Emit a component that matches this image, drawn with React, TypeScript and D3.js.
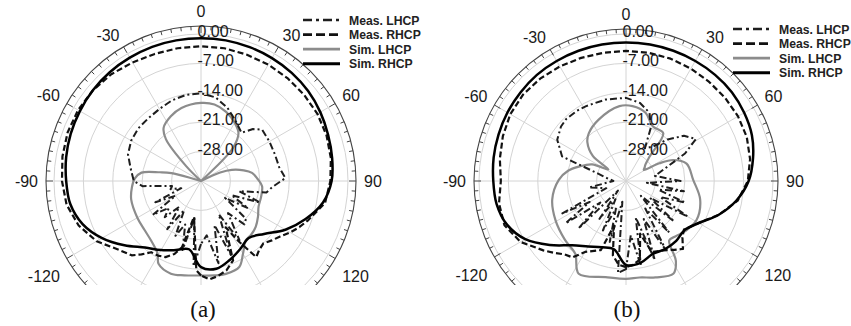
import { useEffect, useRef } from 'react'
import * as d3 from 'd3'

// radial axis (dB) and angular labels (deg)
const radialTicks = [0, -7, -14, -21, -28]
const angleLabels = [0, 30, 60, 90, 120, -120, -90, -60, -30]
const legendNames = ['Meas. LHCP', 'Meas. RHCP', 'Sim. LHCP', 'Sim. RHCP']

// simulated RHCP, sampled every 10 deg
const simRhcpAngles = [
  -180, -170, -160, -150, -140, -130, -120, -110, -100, -90, -80, -70, -60, -50, -40, -30, -20, -10,
  0, 10, 20, 30, 40, 50, 60, 70, 80, 90, 100, 110, 120, 130, 140, 150, 160, 170,
]
const simRhcpA = [
  -14.5, -18.5, -17.5, -16, -14.3, -11.2, -7.8, -5, -3.4, -2.9, -2.4, -2.0, -1.7, -1.4, -1.2, -1.1, -1.0, -1.0,
  -1.0, -1.0, -1.1, -1.2, -1.4, -1.7, -2.2, -2.8, -3.3, -3.9, -5.5, -8.5, -11.8, -15.4, -17.3, -16.3, -15, -13.8,
]
const simRhcpB = [
  -15, -18.5, -18.2, -17, -15, -11.3, -7.3, -4.8, -3.7, -3.4, -3.0, -2.7, -2.4, -2.2, -2.0, -2.0, -2.0, -2.0,
  -2.0, -2.0, -2.0, -2.0, -2.0, -2.1, -2.5, -3.1, -4.3, -5.8, -8.3, -11.5, -15, -16.8, -16.4, -16.3, -16.5, -15.2,
]

// simulated LHCP
const simLhcpAnglesA = [
  -180, -170, -162, -153, -149, -140, -131, -120, -105, -95, -88, -82, -78, -75, -70, -60, -50, -45, -40, -35,
  -25, -15, 0, 10, 20, 30, 38, 44, 48, 55, 62, 66, 70, 76, 81, 88, 95, 105, 114, 122, 130, 137, 143, 150, 156,
  165, 172,
]
const simLhcpA = [
  -12.5, -12.2, -11.8, -12.8, -14.9, -16.5, -17.2, -17.5, -17.8, -18.5, -19.2, -20.7, -25, -27.7, -35, -35, -35,
  -30, -22, -19.5, -18, -17, -16.4, -16.5, -17.5, -19, -20.5, -24, -35, -35, -35, -30, -27.2, -24.5, -22.7, -21.5,
  -20.4, -20.2, -20, -19, -18, -17.5, -17.3, -15, -12.6, -12.1, -12.3,
]
const simLhcpAnglesB = [
  -180, -168, -153, -145, -134, -119, -104, -89, -80, -73, -64, -57, -53, -45, -38, -24, -5, 5, 16, 26, 38, 44,
  50, 54, 58, 62, 66, 74, 89, 104, 119, 130, 138, 144, 148, 153, 163, 172,
]
const simLhcpB = [
  -11.7, -11.6, -10.2, -13.9, -14.8, -15.8, -16.9, -19, -21, -23.3, -26, -30, -25.1, -22, -20.6, -19, -17.1, -17.1,
  -18.1, -20.5, -20.6, -26.9, -29, -29.5, -30, -26, -22.7, -20, -19, -16.8, -15.8, -16.5, -17.3, -17.5, -12.6,
  -10.2, -11, -11.8,
]

// measured RHCP
const measRhcpAnglesA = [
  -180, -177, -169, -164, -160, -155, -150, -145, -141, -137, -130, -120, -110, -100, -90, -80, -70, -60, -50, -40,
  -30, -20, -10, 0, 10, 20, 30, 40, 50, 60, 70, 80, 90, 100, 110, 115, 120, 125, 130, 135, 140, 144, 148, 152, 158,
  164, 170, 175,
]
const measRhcpA = [
  -12.5, -13.7, -26.3, -18.6, -16.5, -15, -14.5, -14.3, -12.5, -10.8, -9.5, -6.3, -4.0, -2.5, -1.9, -1.5, -1.2,
  -1.2, -1.4, -1.8, -2.4, -2.8, -2.9, -2.9, -2.9, -3.0, -3.0, -3.0, -3.0, -3.0, -3.2, -3.6, -4.2, -5.0, -7.8, -9.1,
  -10.5, -12, -13, -14, -13.5, -12.6, -18, -22.5, -14.6, -12.9, -12, -11.5,
]
const measRhcpAnglesB = [
  -180, -175, -170, -165, -160, -150, -145, -140, -135, -130, -120, -110, -100, -90, -80, -70, -60, -50, -40, -30,
  -20, -10, 0, 10, 20, 30, 40, 50, 60, 70, 80, 90, 100, 110, 120, 130, 135, 140, 145, 150, 160, 165, 170, 175,
]
const measRhcpB = [
  -14.5, -15, -17, -24, -17.5, -15.5, -12.8, -12.2, -10.8, -9.3, -6.0, -4.2, -4.3, -5.2, -4.5, -3.8, -3.2, -3.0,
  -3.2, -3.5, -3.8, -4.0, -4.0, -4.0, -4.0, -4.1, -4.2, -4.2, -4.2, -4.4, -5, -6, -8, -11.5, -15, -17, -16, -13.9,
  -15, -16, -17, -22, -16, -15,
]

// measured LHCP
const measLhcpAnglesA = [
  -180, -175, -170, -165, -160, -155, -150, -145, -140, -135, -130, -125, -120, -115, -110, -105, -100, -95, -90,
  -80, -70, -60, -50, -40, -30, -20, -10, 0, 10, 20, 30, 40, 45, 50, 60, 70, 80, 88, 95, 100, 105, 110, 115, 120,
  125, 130, 135, 140, 147, 152, 158, 163, 168, 174,
]
const measLhcpA = [
  -20, -14.6, -26, -18, -24, -20.6, -27, -21, -27, -22.8, -25, -21, -28, -23, -30, -27.5, -28, -21, -19, -18,
  -16.5, -15.8, -15.5, -15.5, -15.2, -14.6, -14.2, -14.1, -14.8, -16.5, -18.5, -20, -17.5, -16, -16.2, -16.3,
  -16.1, -14.9, -18, -19.2, -25.6, -20, -27, -22, -28, -21, -20.4, -25, -18.2, -26, -16, -24, -15, -22,
]
const measLhcpAnglesB = [
  -180, -175, -170, -165, -160, -155, -150, -145, -140, -135, -130, -125, -120, -117, -110, -100, -90, -80, -75,
  -69, -59, -50, -44, -35, -28, -14, 0, 10, 19, 25, 30, 38, 45, 52, 59, 65, 70, 80, 90, 95, 100, 105, 110, 115,
  120, 125, 130, 135, 140, 145, 150, 155, 160, 165, 170, 175,
]
const measLhcpB = [
  -14, -13, -30, -20, -28, -22, -30, -24, -32, -19, -27, -17.4, -25, -18, -30, -26, -32, -30, -28, -18.7, -15.9,
  -14.8, -14.5, -14.6, -14.8, -15, -15.2, -16.1, -17.8, -21, -26, -24.6, -21, -17.5, -15.6, -19.5, -24, -28, -22,
  -30, -21, -27, -20, -26, -18, -28, -20, -30, -19, -27, -16, -25, -15, -26, -14.5, -22,
]

interface Trace {
  angles: number[]
  values: number[]
}

// legend order: Meas. LHCP, Meas. RHCP, Sim. LHCP, Sim. RHCP
const styles = [
  { stroke: '#1e1e1e', width: 2, dash: '7,3,2,3', smooth: false },
  { stroke: '#111', width: 2.2, dash: '6,3', smooth: false },
  { stroke: '#8c8c8c', width: 2.2, dash: null, smooth: true },
  { stroke: '#000', width: 2.5, dash: null, smooth: true },
]
const drawOrder = [2, 0, 1, 3]

const panels = [
  {
    id: 'a',
    cx: 201,
    cy: 181,
    ring: 155,
    legendX: 303,
    legendY: 20,
    legendClip: 424,
    captionX: 203,
    caption: '(a)',
    traces: [
      { angles: measLhcpAnglesA, values: measLhcpA },
      { angles: measRhcpAnglesA, values: measRhcpA },
      { angles: simLhcpAnglesA, values: simLhcpA },
      { angles: simRhcpAngles, values: simRhcpA },
    ] as Trace[],
  },
  {
    id: 'b',
    cx: 626,
    cy: 181,
    ring: 152,
    legendX: 733,
    legendY: 29,
    legendClip: 851,
    captionX: 627,
    caption: '(b)',
    traces: [
      { angles: measLhcpAnglesB, values: measLhcpB },
      { angles: measRhcpAnglesB, values: measRhcpB },
      { angles: simLhcpAnglesB, values: simLhcpB },
      { angles: simRhcpAngles, values: simRhcpB },
    ] as Trace[],
  },
]

export default function App() {
  const svgRef = useRef<SVGSVGElement>(null)

  useEffect(() => {
    if (!svgRef.current) return
    const width = 851
    const height = 326
    const svg = d3.select(svgRef.current)
    svg.selectAll('*').remove()
    svg.attr('width', width).attr('height', height)
    svg.append('rect').attr('width', width).attr('height', height).attr('fill', '#fff')

    const rScale = d3.scaleLinear().domain([-35, 0]).range([0, 147]).clamp(true)
    const rad = (deg: number) => (deg * Math.PI) / 180
    const font = 'Arial, "Liberation Sans", sans-serif'
    const defs = svg.append('defs')

    panels.forEach((p) => {
      defs
        .append('clipPath')
        .attr('id', `plot-${p.id}`)
        .append('rect')
        .attr('x', p.cx - 210)
        .attr('y', 0)
        .attr('width', 420)
        .attr('height', 285)
      defs
        .append('clipPath')
        .attr('id', `leg-${p.id}`)
        .append('rect')
        .attr('x', 0)
        .attr('y', 0)
        .attr('width', p.legendClip)
        .attr('height', 100)

      const plot = svg
        .append('g')
        .attr('clip-path', `url(#plot-${p.id})`)
        .append('g')
        .attr('transform', `translate(${p.cx},${p.cy})`)

      // grid circles
      plot
        .selectAll('circle.grid')
        .data(radialTicks)
        .join('circle')
        .attr('class', 'grid')
        .attr('r', (d) => rScale(d))
        .attr('fill', 'none')
        .attr('stroke', '#d4d4d4')
        .attr('stroke-width', 1)

      // spokes
      plot
        .selectAll('line.spoke')
        .data(d3.range(0, 360, 30))
        .join('line')
        .attr('class', 'spoke')
        .attr('x1', 0)
        .attr('y1', 0)
        .attr('x2', (d) => rScale(0) * Math.sin(rad(d)))
        .attr('y2', (d) => -rScale(0) * Math.cos(rad(d)))
        .attr('stroke', '#d4d4d4')
        .attr('stroke-width', 1)

      // outer ring with inward ticks
      plot
        .append('circle')
        .attr('r', p.ring)
        .attr('fill', 'none')
        .attr('stroke', '#444')
        .attr('stroke-width', 1.1)

      plot
        .selectAll('line.tick')
        .data(d3.range(-180, 180, 3.75))
        .join('line')
        .attr('class', 'tick')
        .attr('x1', (d) => p.ring * Math.sin(rad(d)))
        .attr('y1', (d) => -p.ring * Math.cos(rad(d)))
        .attr('x2', (d) => (p.ring - (d % 30 === 0 ? 7 : 4)) * Math.sin(rad(d)))
        .attr('y2', (d) => -(p.ring - (d % 30 === 0 ? 7 : 4)) * Math.cos(rad(d)))
        .attr('stroke', '#444')
        .attr('stroke-width', 1)

      // traces
      drawOrder.forEach((i) => {
        const t = p.traces[i]
        const st = styles[i]
        const line = d3
          .lineRadial<number>()
          .angle((_, j) => rad(t.angles[j]))
          .radius((d) => rScale(d))
          .curve(st.smooth ? d3.curveCatmullRomClosed.alpha(0.5) : d3.curveLinearClosed)
        const path = plot
          .append('path')
          .datum(t.values)
          .attr('d', line)
          .attr('fill', 'none')
          .attr('stroke', st.stroke)
          .attr('stroke-width', st.width)
          .attr('stroke-linejoin', 'round')
        if (st.dash) path.attr('stroke-dasharray', st.dash)
      })

      // radial labels
      svg
        .append('g')
        .selectAll('text')
        .data(radialTicks)
        .join('text')
        .attr('x', p.cx - 3.5)
        .attr('y', (d) => p.cy - rScale(d) + 3)
        .attr('font-family', font)
        .attr('font-size', '16px')
        .attr('fill', '#1a1a1a')
        .text((d) => d.toFixed(2))

      // angle labels
      const L = p.ring + 8
      svg
        .append('g')
        .selectAll('text')
        .data(angleLabels)
        .join('text')
        .attr('x', (d) => p.cx + L * Math.sin(rad(d)))
        .attr('y', (d) => {
          const c = Math.cos(rad(d))
          const y = p.cy - L * c
          if (c > 0.95) return y - 1
          if (c > 0.2) return y + 1
          if (c < -0.2) return y + 19.5
          return y + 5.5
        })
        .attr('text-anchor', (d) => {
          const s = Math.sin(rad(d))
          return s > 0.1 ? 'start' : s < -0.1 ? 'end' : 'middle'
        })
        .attr('font-family', font)
        .attr('font-size', '16px')
        .attr('fill', '#1a1a1a')
        .text((d) => String(d))

      // legend
      const leg = svg.append('g').attr('clip-path', `url(#leg-${p.id})`)
      legendNames.forEach((name, i) => {
        const y = p.legendY + i * 14.6
        const st = styles[i]
        const l = leg
          .append('line')
          .attr('x1', p.legendX)
          .attr('x2', p.legendX + 37)
          .attr('y1', y)
          .attr('y2', y)
          .attr('stroke', st.stroke)
          .attr('stroke-width', st.width + 0.6)
        if (st.dash) l.attr('stroke-dasharray', i === 0 ? '9,4,3,4' : '9,4')
        leg
          .append('text')
          .attr('x', p.legendX + 46)
          .attr('y', y + 4.5)
          .attr('font-family', font)
          .attr('font-size', '12.2px')
          .attr('font-weight', 'bold')
          .attr('fill', '#222')
          .text(name)
      })

      // caption
      svg
        .append('text')
        .attr('x', p.captionX)
        .attr('y', 317)
        .attr('text-anchor', 'middle')
        .attr('font-family', '"Times New Roman", "Liberation Serif", serif')
        .attr('font-size', '23px')
        .attr('fill', '#111')
        .text(p.caption)
    })
  }, [])

  return (
    <div style={{ position: 'absolute', left: 0, top: 0 }}>
      <svg ref={svgRef}></svg>
    </div>
  )
}
